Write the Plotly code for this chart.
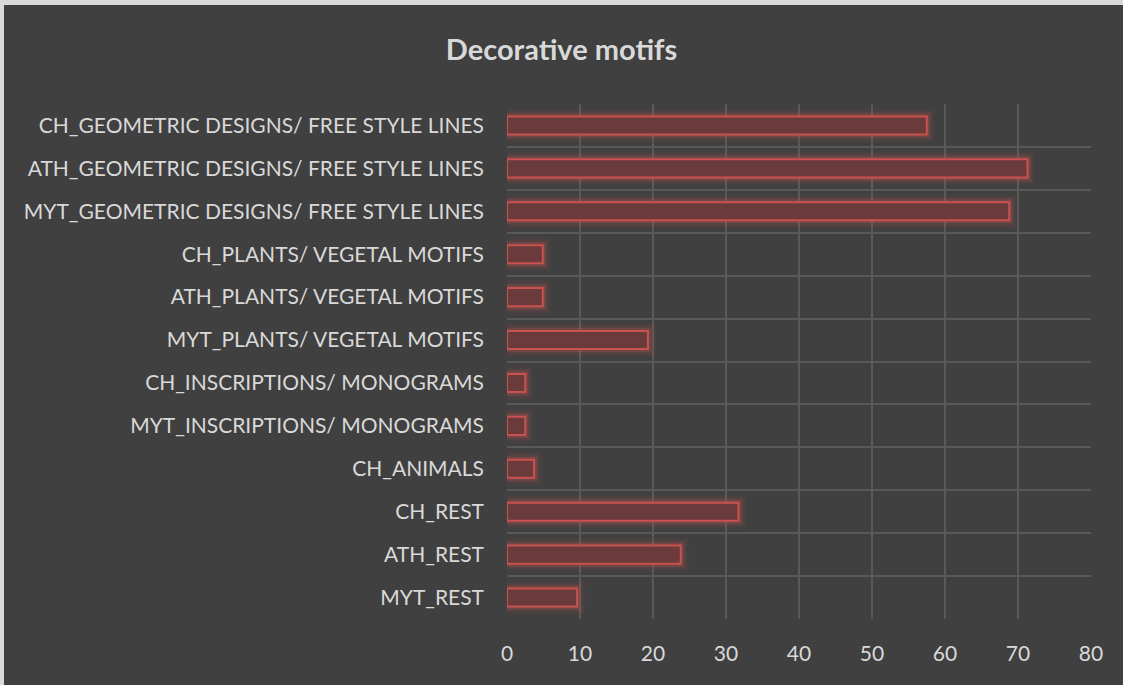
import plotly.graph_objects as go

# categories, top to bottom as shown in the chart
categorie = [
    "CH_GEOMETRIC DESIGNS/ FREE STYLE LINES",
    "ATH_GEOMETRIC DESIGNS/ FREE STYLE LINES",
    "MYT_GEOMETRIC DESIGNS/ FREE STYLE LINES",
    "CH_PLANTS/ VEGETAL MOTIFS",
    "ATH_PLANTS/ VEGETAL MOTIFS",
    "MYT_PLANTS/ VEGETAL MOTIFS",
    "CH_INSCRIPTIONS/ MONOGRAMS",
    "MYT_INSCRIPTIONS/ MONOGRAMS",
    "CH_ANIMALS",
    "CH_REST",
    "ATH_REST",
    "MYT_REST",
]
valori = [57.5, 71.3, 68.8, 4.9, 4.9, 19.3, 2.5, 2.5, 3.7, 31.7, 23.8, 9.6]
x_ticks = [0, 10, 20, 30, 40, 50, 60, 70, 80]

BG = "#404040"
TXT = "#d9d9d9"
GRID = "#595959"
RED = "#c8524f"
FONT = "Lato"

fig = go.Figure()

# alone "glow" attorno alle barre
for w, a in [(16, 0.07), (10, 0.12), (6, 0.25)]:
    fig.add_trace(go.Bar(
        x=valori, y=categorie, orientation="h", width=0.42,
        marker=dict(color="rgba(0,0,0,0)",
                    line=dict(color=f"rgba(200,82,79,{a})", width=w)),
        hoverinfo="skip", showlegend=False,
    ))

fig.add_trace(go.Bar(
    x=valori, y=categorie, orientation="h", width=0.42,
    marker=dict(color="#6b3a3a", line=dict(color=RED, width=2)),
    showlegend=False,
))

fig.update_layout(
    width=1123, height=685,
    margin=dict(l=507, r=32, t=104, b=66),
    paper_bgcolor="#d9d9d9",
    plot_bgcolor="rgba(0,0,0,0)",
    barmode="overlay",
    font=dict(family=FONT, color=TXT, size=21),
    title=dict(text="<b>Decorative motifs</b>", x=0.5, xref="container",
               y=1 - 50 / 685, yanchor="middle",
               font=dict(family=FONT, size=29, color=TXT)),
    shapes=[dict(type="rect", xref="paper", yref="paper",
                 x0=(4 - 507) / 584, x1=(1130 - 507) / 584,
                 y0=(619 - 690) / 515, y1=(619 - 5) / 515,
                 fillcolor=BG, line=dict(width=0), layer="below")],
)

fig.update_xaxes(
    range=[0, 80], tickvals=x_ticks, showgrid=True, gridcolor=GRID, gridwidth=1.5,
    zeroline=False, showline=False, ticks="", ticklabelstandoff=20,
    tickfont=dict(size=21, color=TXT),
)
fig.update_yaxes(
    autorange="reversed", tickson="boundaries", showgrid=True, gridcolor=GRID,
    gridwidth=1.5, showline=False, ticks="", ticklabelstandoff=22,
    tickfont=dict(size=21, color=TXT),
)

fig.write_html("out.html", config={"displayModeBar": False},
               post_script="document.body.style.margin='0';")
